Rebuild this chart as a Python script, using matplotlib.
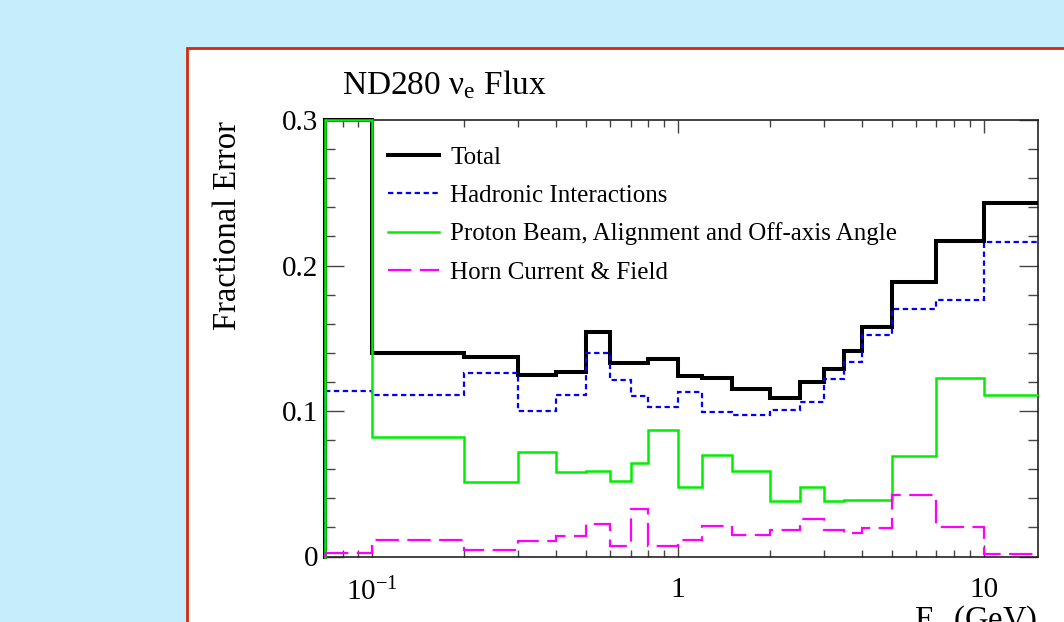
import numpy as np
import matplotlib
matplotlib.use("Agg")
import matplotlib.pyplot as plt
from matplotlib.patches import Rectangle
from matplotlib.lines import Line2D
from matplotlib.ticker import FixedLocator, FuncFormatter, LogLocator, NullFormatter, MultipleLocator

plt.rcParams['font.family'] = ['Liberation Serif', 'DejaVu Serif']
plt.rcParams['mathtext.fontset'] = 'custom'
plt.rcParams['mathtext.rm'] = 'Liberation Serif'
plt.rcParams['mathtext.it'] = 'Liberation Serif:italic'

# energy binning (GeV)
edges = [0.0, 0.1, 0.2, 0.3, 0.4, 0.5, 0.6, 0.7, 0.8, 1.0, 1.2, 1.5,
         2.0, 2.5, 3.0, 3.5, 4.0, 5.0, 7.0, 10.0, 30.0]

# fractional errors per bin
total = [0.300, 0.140, 0.137, 0.125, 0.127, 0.154, 0.133, 0.133, 0.136, 0.124,
         0.123, 0.115, 0.109, 0.120, 0.129, 0.141, 0.158, 0.189, 0.217, 0.243]
hadronic = [0.114, 0.111, 0.126, 0.100, 0.111, 0.140, 0.121, 0.110, 0.103, 0.113,
            0.099, 0.097, 0.101, 0.106, 0.122, 0.134, 0.152, 0.170, 0.176, 0.216]
proton_beam = [0.300, 0.082, 0.051, 0.072, 0.058, 0.059, 0.052, 0.064, 0.087, 0.048,
               0.070, 0.059, 0.038, 0.048, 0.038, 0.039, 0.039, 0.069, 0.123, 0.111]
horn = [0.0025, 0.0115, 0.0046, 0.0105, 0.0142, 0.022, 0.0069, 0.0328, 0.0069, 0.0115,
        0.0213, 0.0147, 0.0184, 0.0257, 0.0184, 0.0163, 0.0195, 0.0424, 0.0204, 0.0018]

labels = ['Total', 'Hadronic Interactions',
          'Proton Beam, Alignment and Off-axis Angle', 'Horn Current & Field']

x_lo, x_hi = 0.07, 15.0
y_lo, y_hi = 0.0, 0.3

W, H = 1064, 622
fig = plt.figure(figsize=(W / 100, H / 100), dpi=100, facecolor='#c6eefa')

# white canvas with red border
fig.patches.append(Rectangle((187 / W, -0.1), 1.0, 1 - 48 / H + 0.1,
                             transform=fig.transFigure, facecolor='white',
                             edgecolor='#d8280c', linewidth=2, zorder=-1))

ax = fig.add_axes([325 / W, 1 - 556.5 / H, (1037.5 - 325) / W, (556.5 - 120) / H])
ax.set_xscale('log')
ax.set_xlim(x_lo, x_hi)
ax.set_ylim(y_lo, y_hi)


def draw_hist(vals, z, **kw):
    e = np.clip(edges, x_lo, x_hi)
    v = np.minimum(vals, y_hi)
    ax.stairs(v, e, baseline=None, clip_on=False, zorder=z, **kw)
    ax.plot([e[0], e[0]], [0, v[0]], clip_on=False, zorder=z, **kw)


styles = [
    dict(color='black', linewidth=2.9, linestyle='-'),
    dict(color='#0000ff', linewidth=1.6, linestyle=(0, (2.4, 1.6))),
    dict(color='#00ee00', linewidth=1.8, linestyle='-'),
    dict(color='#ff00ff', linewidth=1.6, linestyle=(0, (10.5, 3.8))),
]
for i, vals in enumerate([total, hadronic, proton_beam, horn]):
    draw_hist(vals, 3 + i, **styles[i])

# axes styling
for s in ax.spines.values():
    s.set_linewidth(1.2)
    s.set_color('#222222')

ax.yaxis.set_major_locator(FixedLocator([0.0, 0.1, 0.2, 0.3]))
ax.yaxis.set_minor_locator(MultipleLocator(0.02))
ax.yaxis.set_major_formatter(FuncFormatter(lambda v, p: '0' if abs(v) < 1e-9 else f'{v:.1f}'))

ax.xaxis.set_major_locator(FixedLocator([0.1, 1.0, 10.0]))
ax.xaxis.set_minor_locator(LogLocator(base=10, subs=np.arange(2, 10)))
ax.xaxis.set_minor_formatter(NullFormatter())
ax.xaxis.set_major_formatter(FuncFormatter(
    lambda v, p: {0.1: r'$\mathregular{10^{-1}}$', 1.0: '1', 10.0: '10'}.get(round(v, 3), '')))

ax.tick_params(which='both', direction='in', top=True, right=True, color='#444444',
               labelsize=21, width=1.0)
ax.tick_params(axis='y', which='major', length=13.5, pad=5)
ax.tick_params(axis='y', which='minor', length=7)
ax.tick_params(axis='x', which='major', length=9, pad=15)
ax.tick_params(axis='x', which='minor', length=5)

# legend
handles = [Line2D([], [], **st) for st in styles]
ax.legend(handles, labels, loc='upper left', bbox_to_anchor=(388 / W, 1 - 146 / H),
          bbox_transform=fig.transFigure, frameon=False, fontsize=18,
          handlelength=2.05, handletextpad=0.45, labelspacing=0.63,
          borderpad=0, borderaxespad=0)

# titles
fig.text(342 / W, 1 - 94 / H, 'ND280 ν$_\\mathregular{e}$ Flux', fontsize=24,
         va='baseline', ha='left')
fig.text(228 / W, 1 - 121 / H, 'Fractional Error', fontsize=23.5, rotation=90,
         ha='center', va='top')
fig.text(1037 / W, 1 - 604 / H, 'E$_\\mathregular{ν}$ (GeV)', fontsize=23.5,
         ha='right', va='top')

fig.savefig('out.png', dpi=100, facecolor=fig.get_facecolor())
